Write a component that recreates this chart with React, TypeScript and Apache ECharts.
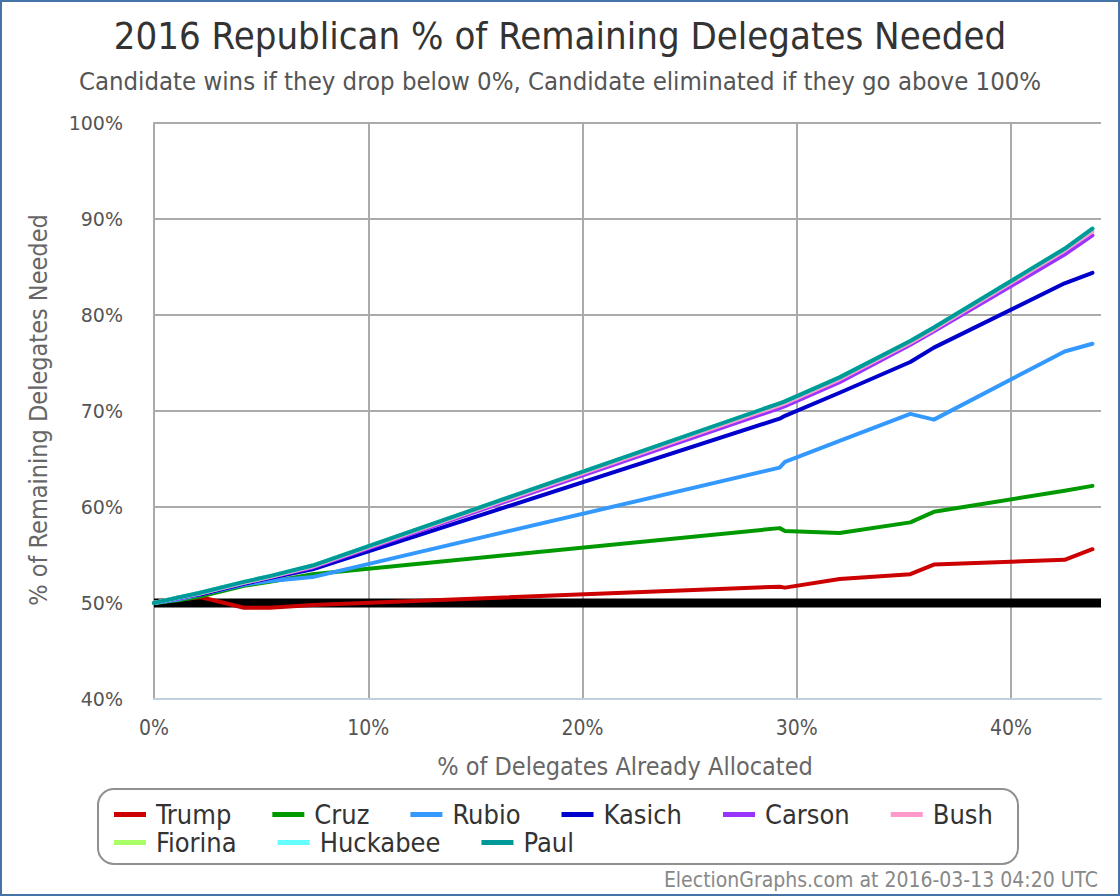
import React, { useEffect, useRef } from "react";
import * as echarts from "echarts";

const xs = [0, 1.2, 2.2, 4.2, 5.4, 7.4, 29.2, 29.45, 32.0, 35.3, 36.4, 42.5, 43.8];
const trump = [50.0, 50.4, 50.6, 49.5, 49.5, 49.8, 51.7, 51.6, 52.5, 53.0, 54.0, 54.5, 55.6];
const cruz = [50.0, 50.3, 50.7, 51.8, 52.2, 53.0, 57.8, 57.5, 57.3, 58.4, 59.5, 61.7, 62.2];
const rubio = [50.0, 50.4, 50.9, 51.9, 52.3, 52.7, 64.1, 64.7, 66.9, 69.7, 69.1, 76.2, 77.0];
const kasich = [50.0, 50.6, 50.9, 52.0, 52.6, 53.5, 69.2, 69.5, 71.9, 75.1, 76.6, 83.3, 84.4];
const carson = [50.0, 50.5, 51.0, 52.1, 52.7, 53.7, 70.3, 70.5, 73.0, 76.9, 78.3, 86.3, 88.3];
const bush = [50.0, 50.6, 51.0, 52.1, 52.7, 53.8, 70.6, 70.8, 73.3, 77.1, 78.5, 86.7, 88.7];
const fiorina = [50.0, 50.6, 51.1, 52.2, 52.8, 53.9, 70.8, 71.0, 73.5, 77.3, 78.7, 86.9, 89.0];
const huckabee = [50.0, 50.6, 51.1, 52.2, 52.8, 53.9, 70.8, 71.0, 73.5, 77.3, 78.7, 86.9, 89.0];
const paul = [50.0, 50.6, 51.1, 52.2, 52.8, 53.9, 70.8, 71.0, 73.5, 77.3, 78.7, 86.9, 89.0];

const names = ["Trump", "Cruz", "Rubio", "Kasich", "Carson", "Bush", "Fiorina", "Huckabee", "Paul"];
const colors = ["#cc0000", "#009900", "#3399ff", "#0000cc", "#9933ff", "#ff99cc", "#aaff66", "#66ffff", "#009999"];
const values = [trump, cruz, rubio, kasich, carson, bush, fiorina, huckabee, paul];

const xTicks = [0, 10, 20, 30, 40];
const yTicks = [40, 50, 60, 70, 80, 90, 100];
const winLevel = 50;

const NARROW = "'Liberation Sans Narrow', 'DejaVu Sans Condensed', 'Arial Narrow', sans-serif";

export default function App() {
  const ref = useRef<HTMLDivElement>(null);
  useEffect(() => {
    const chart = echarts.init(ref.current!, null, { renderer: "svg" });
    const xMax = 44.2;
    const series: any[] = [
      {
        name: "win",
        type: "line",
        data: [[0, winLevel], [xMax, winLevel]],
        showSymbol: false,
        lineStyle: { color: "#000", width: 9 },
        silent: true,
        z: 1,
      },
    ];
    names.forEach((n, i) => {
      series.push({
        name: n,
        type: "line",
        data: xs.map((x, j) => [x, values[i][j]]),
        showSymbol: false,
        lineStyle: { color: colors[i], width: 4, cap: "round", join: "round" },
        itemStyle: { color: colors[i] },
        z: 2,
      });
    });
    const legendCommon = {
      left: 114,
      orient: "horizontal",
      icon: "rect",
      itemWidth: 32,
      itemHeight: 5,
      itemGap: 41,
      padding: 0,
      selectedMode: false,
      textStyle: { fontFamily: NARROW, fontSize: 27, color: "#333", lineHeight: 27, padding: [0, 0, 0, 5] },
    };
    chart.setOption({
      animation: false,
      backgroundColor: "#fff",
      grid: { left: 154, top: 123, right: 19, bottom: 197, containLabel: false },
      xAxis: {
        type: "value",
        min: 0,
        max: xMax,
        interval: 10,
        axisLine: { show: true, lineStyle: { color: "#c0d0e0", width: 2 } },
        axisTick: { show: false },
        splitLine: { show: true, showMinLine: false, showMaxLine: false, lineStyle: { color: "#aaa", width: 2 } },
        axisLabel: {
          margin: 18,
          fontFamily: NARROW,
          fontSize: 21,
          color: "#555",
          showMaxLabel: false,
          formatter: (v: number) => (xTicks.includes(v) ? `${v}%` : ""),
        },
      },
      yAxis: {
        type: "value",
        min: yTicks[0],
        max: yTicks[yTicks.length - 1],
        interval: 10,
        axisLine: { show: true, lineStyle: { color: "#aaa", width: 2 } },
        axisTick: { show: false },
        splitLine: { show: true, lineStyle: { color: "#aaa", width: 2 } },
        axisLabel: {
          margin: 31,
          fontFamily: "'DejaVu Sans', sans-serif",
          fontSize: 19,
          color: "#555",
          formatter: (v: number) => `${v}%`,
        },
      },
      legend: [
        { ...legendCommon, top: 801, data: names.slice(0, 6) },
        { ...legendCommon, top: 829, data: names.slice(6) },
      ],
      graphic: [
        {
          type: "rect",
          shape: { x: 1, y: 1, width: 1118, height: 894 },
          style: { fill: "none", stroke: "#4572a7", lineWidth: 2 },
          silent: true,
          z: -1,
        },
        {
          type: "rect",
          shape: { x: 98, y: 789, width: 920, height: 75, r: 16 },
          style: { fill: "none", stroke: "#909090", lineWidth: 2 },
          silent: true,
          z: -1,
        },
        {
          type: "text",
          x: 560,
          y: 36,
          style: {
            text: "2016 Republican % of Remaining Delegates Needed",
            fontFamily: NARROW,
            fontSize: 38,
            fill: "#333",
            align: "center",
            verticalAlign: "middle",
          },
        },
        {
          type: "text",
          x: 560,
          y: 81,
          style: {
            text: "Candidate wins if they drop below 0%, Candidate eliminated if they go above 100%",
            fontFamily: NARROW,
            fontSize: 25.5,
            fill: "#555",
            align: "center",
            verticalAlign: "middle",
          },
        },
        {
          type: "text",
          x: 38,
          y: 410,
          rotation: Math.PI / 2,
          style: {
            text: "% of Remaining Delegates Needed",
            fontFamily: NARROW,
            fontSize: 25,
            fill: "#666",
            align: "center",
            verticalAlign: "middle",
          },
        },
        {
          type: "text",
          x: 625,
          y: 766,
          style: {
            text: "% of Delegates Already Allocated",
            fontFamily: NARROW,
            fontSize: 25,
            fill: "#666",
            align: "center",
            verticalAlign: "middle",
          },
        },
        {
          type: "text",
          x: 1098,
          y: 880,
          style: {
            text: "ElectionGraphs.com at 2016-03-13 04:20 UTC",
            fontFamily: NARROW,
            fontSize: 21,
            fill: "#888",
            align: "right",
            verticalAlign: "middle",
          },
        },
      ],
      series,
    });
    return () => chart.dispose();
  }, []);
  return (
    <div
      ref={ref}
      style={{ position: "fixed", left: 0, top: 0, width: 1120, height: 896 }}
    />
  );
}
